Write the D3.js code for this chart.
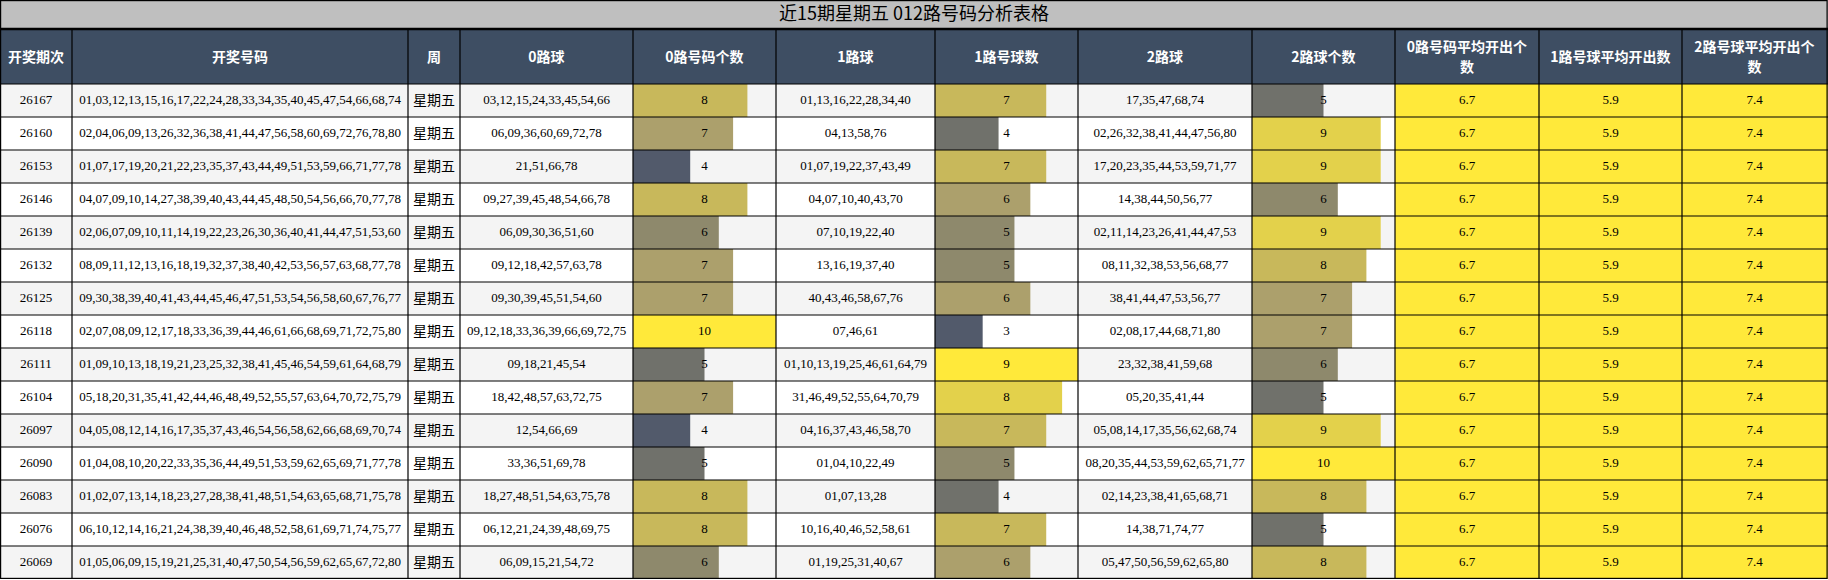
<!DOCTYPE html>
<html><head><meta charset="utf-8">
<script src="https://cdn.jsdelivr.net/npm/d3@7"></script>
<style>body{margin:0;background:#fff}svg{display:block}</style>
</head><body><svg id="c" width="1828" height="580"></svg>
<script>
const title = "近15期星期五 012路号码分析表格";
const headers = ["开奖期次","开奖号码","周","0路球","0路号码个数","1路球","1路号球数","2路球","2路球个数","0路号码平均开出个|数","1路号球平均开出数","2路号球平均开出个|数"];
const issues = ["26167","26160","26153","26146","26139","26132","26125","26118","26111","26104","26097","26090","26083","26076","26069"];
const draws = [
"01,03,12,13,15,16,17,22,24,28,33,34,35,40,45,47,54,66,68,74",
"02,04,06,09,13,26,32,36,38,41,44,47,56,58,60,69,72,76,78,80",
"01,07,17,19,20,21,22,23,35,37,43,44,49,51,53,59,66,71,77,78",
"04,07,09,10,14,27,38,39,40,43,44,45,48,50,54,56,66,70,77,78",
"02,06,07,09,10,11,14,19,22,23,26,30,36,40,41,44,47,51,53,60",
"08,09,11,12,13,16,18,19,32,37,38,40,42,53,56,57,63,68,77,78",
"09,30,38,39,40,41,43,44,45,46,47,51,53,54,56,58,60,67,76,77",
"02,07,08,09,12,17,18,33,36,39,44,46,61,66,68,69,71,72,75,80",
"01,09,10,13,18,19,21,23,25,32,38,41,45,46,54,59,61,64,68,79",
"05,18,20,31,35,41,42,44,46,48,49,52,55,57,63,64,70,72,75,79",
"04,05,08,12,14,16,17,35,37,43,46,54,56,58,62,66,68,69,70,74",
"01,04,08,10,20,22,33,35,36,44,49,51,53,59,62,65,69,71,77,78",
"01,02,07,13,14,18,23,27,28,38,41,48,51,54,63,65,68,71,75,78",
"06,10,12,14,16,21,24,38,39,40,46,48,52,58,61,69,71,74,75,77",
"01,05,06,09,15,19,21,25,31,40,47,50,54,56,59,62,65,67,72,80"];
const weekday = "星期五";
const road0 = ["03,12,15,24,33,45,54,66","06,09,36,60,69,72,78","21,51,66,78","09,27,39,45,48,54,66,78","06,09,30,36,51,60","09,12,18,42,57,63,78","09,30,39,45,51,54,60","09,12,18,33,36,39,66,69,72,75","09,18,21,45,54","18,42,48,57,63,72,75","12,54,66,69","33,36,51,69,78","18,27,48,51,54,63,75,78","06,12,21,24,39,48,69,75","06,09,15,21,54,72"];
const count0 = [8,7,4,8,6,7,7,10,5,7,4,5,8,8,6];
const road1 = ["01,13,16,22,28,34,40","04,13,58,76","01,07,19,22,37,43,49","04,07,10,40,43,70","07,10,19,22,40","13,16,19,37,40","40,43,46,58,67,76","07,46,61","01,10,13,19,25,46,61,64,79","31,46,49,52,55,64,70,79","04,16,37,43,46,58,70","01,04,10,22,49","01,07,13,28","10,16,40,46,52,58,61","01,19,25,31,40,67"];
const count1 = [7,4,7,6,5,5,6,3,9,8,7,5,4,7,6];
const road2 = ["17,35,47,68,74","02,26,32,38,41,44,47,56,80","17,20,23,35,44,53,59,71,77","14,38,44,50,56,77","02,11,14,23,26,41,44,47,53","08,11,32,38,53,56,68,77","38,41,44,47,53,56,77","02,08,17,44,68,71,80","23,32,38,41,59,68","05,20,35,41,44","05,08,14,17,35,56,62,68,74","08,20,35,44,53,59,62,65,71,77","02,14,23,38,41,65,68,71","14,38,71,74,77","05,47,50,56,59,62,65,80"];
const count2 = [5,9,9,6,9,8,7,7,6,5,9,10,8,5,8];
const avg0 = "6.7", avg1 = "5.9", avg2 = "7.4";

const colEdges = [0,72,408,460,633,776,935,1078,1252,1395,1539,1682,1827];
const titleH = 29, headH = 55, rowH = 33;
const svg = d3.select("#c");
const F = "'Liberation Serif','Noto Sans CJK SC',serif";
const FC = "'Noto Sans CJK SC','Liberation Serif',sans-serif";

svg.append("rect").attr("x",0).attr("y",0).attr("width",1828).attr("height",titleH).attr("fill","#bfbfbf");
svg.append("text").attr("x",914).attr("y",titleH/2+1).attr("text-anchor","middle").attr("dominant-baseline","middle")
  .attr("font-family",FC).attr("font-size",18).attr("fill","#000").text(title);

svg.append("rect").attr("x",0).attr("y",titleH).attr("width",1828).attr("height",headH).attr("fill","#3e4e63");
headers.forEach((h,i)=>{
  const cx=(colEdges[i]+colEdges[i+1])/2, parts=h.split("|");
  const t=svg.append("text").attr("text-anchor","middle").attr("font-family",FC).attr("font-size",14)
    .attr("font-weight","bold").attr("fill","#fff");
  parts.forEach((p,k)=>t.append("tspan").attr("x",cx)
    .attr("y",titleH+headH/2+5+(k-(parts.length-1)/2)*20).text(p));
});

const y = d3.scaleBand().domain(d3.range(issues.length)).range([titleH+headH, titleH+headH+rowH*issues.length]);
const stops = ["#525a6b","#aca06c","#ffe93a"];
function colorScale(lo,hi){return d3.scaleLinear().domain([lo,(lo+hi)/2,hi]).range(stops);}
const bars = [
  {col:4, vals:count0, max:10, color:colorScale(4,10)},
  {col:6, vals:count1, max:9, color:colorScale(3,9)},
  {col:8, vals:count2, max:10, color:colorScale(4,10)}];

issues.forEach((iss,r)=>{
  const y0=y(r);
  svg.append("rect").attr("x",0).attr("y",y0).attr("width",colEdges[9]).attr("height",rowH)
    .attr("fill", r%2===0?"#f4f4f4":"#ffffff");
  svg.append("rect").attr("x",colEdges[9]).attr("y",y0).attr("width",1828-colEdges[9]).attr("height",rowH).attr("fill","#ffe93a");
  bars.forEach(b=>{
    const x0=colEdges[b.col], w=colEdges[b.col+1]-x0;
    const xs=d3.scaleLinear().domain([0,b.max]).range([0,w]);
    svg.append("rect").attr("x",x0).attr("y",y0).attr("width",xs(b.vals[r])).attr("height",rowH).attr("fill",b.color(b.vals[r]));
  });
  const cells=[iss,draws[r],weekday,road0[r],count0[r],road1[r],count1[r],road2[r],count2[r],avg0,avg1,avg2];
  cells.forEach((c,i)=>{
    const cx=(colEdges[i]+colEdges[i+1])/2;
    const t=svg.append("text").attr("x",cx).attr("y",y0+rowH/2+1).attr("text-anchor","middle").attr("dominant-baseline","middle")
      .attr("font-family", i===2?FC:F).attr("font-size", i===2?14:13).attr("fill","#000").text(c);
    const avail=colEdges[i+1]-colEdges[i]-8;
    if(t.node().getComputedTextLength()>avail) t.attr("textLength",avail).attr("lengthAdjust","spacingAndGlyphs");
  });
});

const g=svg.append("g").attr("stroke","#000").attr("stroke-width",1.2);
const yEnd=titleH+headH+rowH*issues.length;
g.append("rect").attr("x",0.6).attr("y",0.6).attr("width",1826.5).attr("height",yEnd-1.2).attr("fill","none");
g.append("line").attr("x1",0).attr("x2",1828).attr("y1",titleH).attr("y2",titleH).attr("stroke-width",2.5);
d3.range(issues.length).forEach(r=>g.append("line").attr("x1",0).attr("x2",1828).attr("y1",y(r)).attr("y2",y(r)));
colEdges.slice(1,-1).forEach(x=>g.append("line").attr("x1",x).attr("x2",x).attr("y1",titleH).attr("y2",yEnd));
</script></body></html>
